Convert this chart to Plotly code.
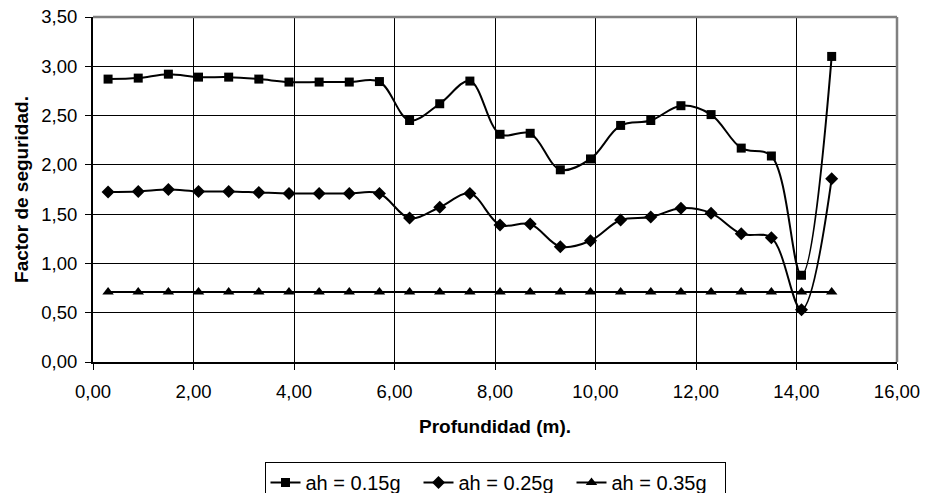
import plotly.graph_objects as go

# Profundidad (m)
profundidad = [0.3, 0.9, 1.5, 2.1, 2.7, 3.3, 3.9, 4.5, 5.1, 5.7, 6.3, 6.9, 7.5,
               8.1, 8.7, 9.3, 9.9, 10.5, 11.1, 11.7, 12.3, 12.9, 13.5, 14.1, 14.7]

# Factor de seguridad por coeficiente sísmico horizontal
fs_015 = [2.87, 2.88, 2.92, 2.89, 2.89, 2.87, 2.84, 2.84, 2.84, 2.845, 2.45, 2.62, 2.85,
          2.31, 2.32, 1.95, 2.06, 2.40, 2.45, 2.60, 2.51, 2.17, 2.09, 0.88, 3.10]
fs_025 = [1.725, 1.73, 1.75, 1.73, 1.73, 1.72, 1.71, 1.71, 1.71, 1.71, 1.46, 1.57, 1.71,
          1.39, 1.40, 1.17, 1.23, 1.44, 1.47, 1.56, 1.51, 1.30, 1.26, 0.53, 1.86]
fs_035 = [0.71] * len(profundidad)

series = [
    ("ah = 0.15g", fs_015, "square", 9),
    ("ah = 0.25g", fs_025, "diamond", 10),
    ("ah = 0.35g", fs_035, "triangle-up", 10),
]

FONT = "Arial, 'Liberation Sans', sans-serif"

fig = go.Figure()
for name, vals, sym, size in series:
    fig.add_trace(go.Scatter(
        x=profundidad, y=vals, name=name, mode="lines+markers",
        line=dict(color="black", width=2, shape="spline", smoothing=1),
        marker=dict(symbol=sym, size=size, color="black"),
    ))

axis_common = dict(
    showgrid=True, gridcolor="black", gridwidth=1,
    showline=True, linecolor="black", linewidth=2,
    ticks="outside", ticklen=6, tickcolor="black", tickwidth=1,
    zeroline=False, tickfont=dict(size=18.5), tickformat=".2f",
)

fig.update_layout(
    width=925, height=493,
    margin=dict(l=93, r=28, t=17, b=131, autoexpand=False),
    paper_bgcolor="white", plot_bgcolor="white",
    separators=",.",
    font=dict(family=FONT, size=18, color="black"),
    showlegend=True,
    legend=dict(
        orientation="h", x=0.5, xanchor="center", y=-0.29, yanchor="top",
        bordercolor="black", borderwidth=1, font=dict(size=20),
        itemwidth=30, tracegroupgap=0, entrywidth=108,
    ),
    xaxis=dict(range=[0, 16], dtick=2, tick0=0, ticklabelstandoff=6, **axis_common),
    yaxis=dict(range=[0, 3.5], dtick=0.5, tick0=0, ticklabelstandoff=4, **axis_common),
    annotations=[
        dict(text="<b>Profundidad (m).</b>", xref="paper", yref="paper",
             x=0.5, y=-0.186, xanchor="center", yanchor="middle",
             showarrow=False, font=dict(size=19)),
        dict(text="<b>Factor de seguridad.</b>", xref="paper", yref="paper",
             x=-0.089, y=0.5, xanchor="center", yanchor="middle",
             textangle=-90, showarrow=False, font=dict(size=19)),
    ],
    shapes=[
        dict(type="line", xref="paper", yref="paper", x0=0, x1=1, y0=1, y1=1,
             line=dict(color="#808080", width=2.5), layer="above"),
        dict(type="line", xref="paper", yref="paper", x0=1, x1=1, y0=0, y1=1,
             line=dict(color="#808080", width=2.5), layer="above"),
    ],
)

fig.write_html("out.html")
